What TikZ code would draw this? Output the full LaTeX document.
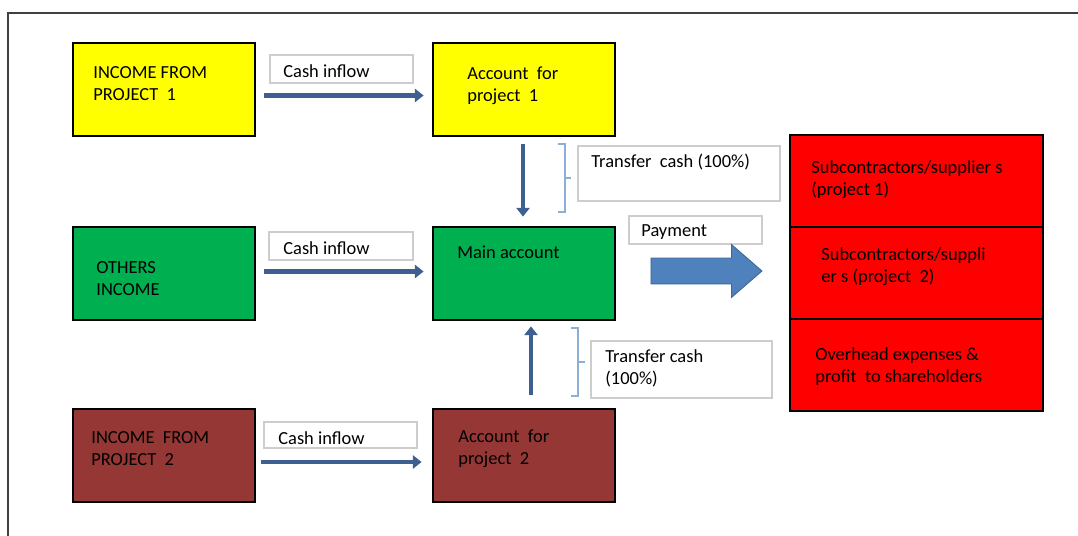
\documentclass[tikz,border=0pt]{standalone}
\usepackage{fontspec}
\setmainfont{Carlito}
\usetikzlibrary{calc,arrows.meta,shapes.arrows}
\definecolor{yel}{RGB}{255,255,0}
\definecolor{grn}{RGB}{0,176,80}
\definecolor{brn}{RGB}{149,55,53}
\definecolor{rd}{RGB}{255,0,0}
\definecolor{flowblue}{RGB}{62,96,145}
\definecolor{fatblue}{RGB}{79,129,189}
\definecolor{brace}{RGB}{140,175,215}
\definecolor{lblgray}{RGB}{205,205,205}
\begin{document}
\begin{tikzpicture}[x=0.02cm, y=-0.02cm,
  box/.style={draw=black, line width=1.6pt, minimum width=3.64cm, minimum height=1.86cm, inner sep=0pt},
  redbox/.style={box, fill=rd, minimum width=5.06cm, minimum height=1.84cm},
  lbl/.style={draw=lblgray, line width=0.7pt, fill=white, inner sep=0pt},
  txt/.style={anchor=west, align=left, inner sep=0pt, font=\fontsize{10.5}{12.6}\selectfont},
  flow/.style={draw=flowblue, line width=2.6pt, -{Triangle[length=5pt,width=7.5pt]}},
  fat/.style={single arrow, fill=fatblue, draw=fatblue!80!black, line width=0.5pt, inner xsep=0pt, inner ysep=0.25cm,
    minimum height=2.22cm, single arrow head extend=0.27cm, single arrow tip angle=82},
  brk/.style={draw=brace, line width=0.6pt}]
\useasboundingbox (0,0) rectangle (1078,536);
\draw[line width=1.2pt, draw=black!75] (8,536) -- (8,13) -- (1078,13);
%%%%
\node[box, fill=yel] (p1) at (164,89.5) {};
\node[box, fill=yel] (a1) at (524,89.5) {};
\node[box, fill=grn] (oth) at (164,273.5) {};
\node[box, fill=grn] (main) at (524,273.5) {};
\node[box, fill=brn] (p2) at (164,455.5) {};
\node[box, fill=brn] (a2) at (524,455.5) {};
\node[redbox] (s1) at (916.5,181) {};
\node[redbox] (s2) at (916.5,273) {};
\node[redbox] (s3) at (916.5,365) {};
%%%%
\node[txt] (tp1) at (93,84) {INCOME FROM\\PROJECT\ \ 1};
\node[txt] (ta1) at (467,86) {Account\ \ for\\project\ \ 1};
\node[txt] (toth) at (96,279) {OTHERS\\INCOME};
\node[txt] (tmain) at (457,252) {Main account};
\node[txt] (tp2) at (91,449) {INCOME\ \ FROM\\PROJECT\ \ 2};
\node[txt] (ta2) at (458,449) {Account\ \ for\\project\ \ 2};
\node[txt] (ts1) at (811,180) {Subcontractors/supplier s\\(project 1)};
\node[txt] (ts2) at (821,267) {Subcontractors/suppli\\er s (project\ \ 2)};
\node[txt] (ts3) at (815,367) {Overhead expenses \&\\profit\ \ to shareholders};
%%%%
\node[lbl, minimum width=2.86cm, minimum height=0.56cm] (cash1) at (341.5,69) {};
\node[lbl, minimum width=2.88cm, minimum height=0.56cm] (cash2) at (341,246) {};
\node[lbl, minimum width=3.06cm, minimum height=0.52cm] (cash3) at (340.5,435) {};
\node[lbl, minimum width=4.04cm, minimum height=1.1cm] (tr1) at (679,173.5) {};
\node[lbl, minimum width=2.66cm, minimum height=0.56cm] (pay) at (695.5,230) {};
\node[lbl, minimum width=3.62cm, minimum height=1.14cm] (tr2) at (681.5,369.5) {};
\node[txt] (tcash1) at (283,71) {Cash inflow};
\node[txt] (tcash2) at (283,248) {Cash inflow};
\node[txt] (tcash3) at (278,438) {Cash inflow};
\node[txt] (ttr1) at (591,162) {Transfer\ \ cash (100\%)};
\node[txt] (tpay) at (641,232) {Payment};
\node[txt] (ttr2) at (605,368) {Transfer cash\\(100\%)};
%%%%
\draw[flow] ($(p1.east)+(8,6)$) -- ($(a1.west)+(-8,6)$);
\draw[flow] ($(oth.east)+(8,-2)$) -- ($(main.west)+(-8,-2)$);
\draw[flow] ($(p2.east)+(5,6.5)$) -- ($(a2.west)+(-10,6.5)$);
\draw[flow] ($(a1.south)+(-1,7)$) -- ($(main.north)+(-1,-9)$);
\draw[flow] ($(a2.north)+(7,-13)$) -- ($(main.south)+(7,5)$);
\node[fat] (payarrow) at (699,271) {};
%%%%
\draw[brk] (558,144) -- (565,144) -- (565,212) -- (558,212);
\draw[brk] (565,178) -- (571,178);
\draw[brk] (571,328) -- (578,328) -- (578,396) -- (571,396);
\draw[brk] (578,362) -- (585,362);
\end{tikzpicture}
\end{document}
